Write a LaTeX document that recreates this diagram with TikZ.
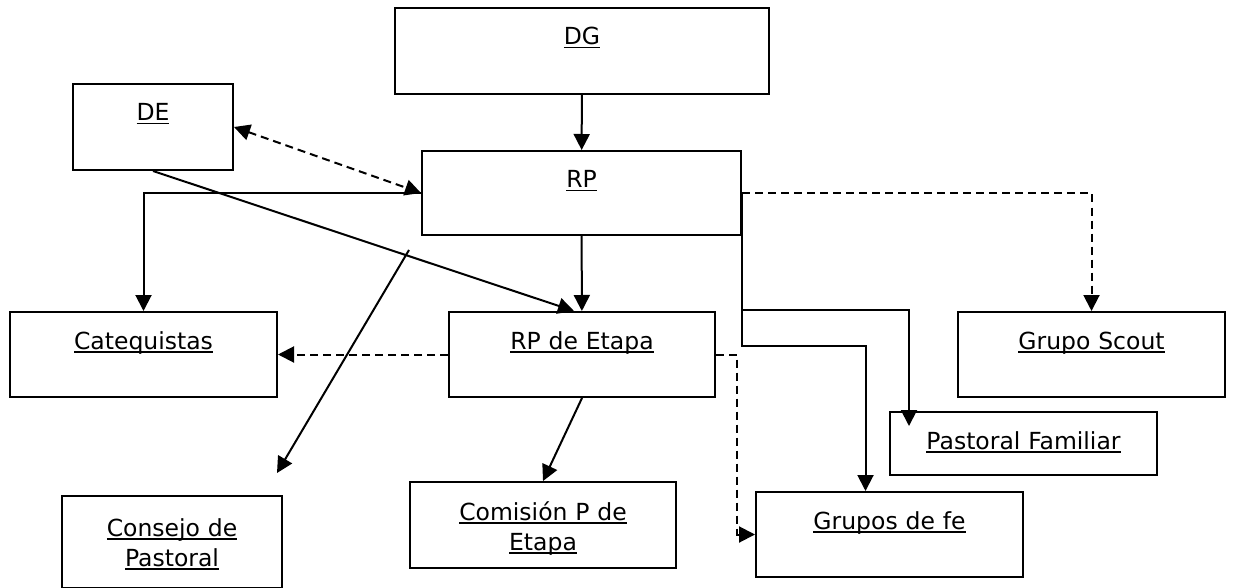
\documentclass[tikz,border=0pt]{standalone}
\usepackage{fontspec}
\setmainfont{DejaVu Sans}
\usetikzlibrary{calc,arrows.meta}

\newcommand{\subr}[1]{\setbox0\hbox{#1}\mbox{\rlap{\rule[-3.5pt]{\wd0}{1.6pt}}\box0}}

\begin{document}
\begin{tikzpicture}[x=1pt,y=-1pt,
	caja/.style 2 args={draw,line width=2pt,inner sep=0pt,anchor=north west,align=center,
		font=\fontsize{23.5}{30}\selectfont,text width=#1,text height=37pt,text depth=#2},
	>={Triangle[length=16pt,width=16pt]},
	flecha/.style={line width=2pt,->},
	guion/.style={dash pattern=on 8pt off 5pt}]
			\useasboundingbox (0,0) rectangle (1233,588);
			%draw boxes
			\node[caja={374pt}{49pt}] (DG) at (394,7) {\subr{DG}};
			\node[caja={160pt}{49pt}] (DE) at (72,83) {\subr{DE}};
			\node[caja={319pt}{47pt}] (RP) at (421,150) {\subr{RP}};
			\node[caja={266pt}{48pt}] (RPE) at (448,311) {\subr{RP de Etapa}};
			\node[caja={267pt}{48pt}] (CAT) at (9,311) {\subr{Catequistas}};
			\node[caja={267pt}{48pt}] (GS) at (957,311) {\subr{Grupo Scout}};
			\node[caja={267pt}{26pt}] (PF) at (889,411) {\subr{Pastoral Familiar}};
			\node[caja={267pt}{48pt}] (GF) at (755,491) {\subr{Grupos de fe}};
			\node[caja={220pt}{52pt},text height=40pt] (CP) at (61,495) {\subr{Consejo de}\\\subr{Pastoral}};
			\node[caja={266pt}{48pt},text height=38pt] (CE) at (409,481) {\subr{Comisión P de}\\\subr{Etapa}};
			%draw arrows
			\draw[flecha] (DG) -- (RP);
			\draw[flecha,guion,<->] (DE.east) -- (RP.west);
			\draw[flecha] (RP.west) -| (CAT.north);
			\draw[flecha] (DE.south) -- ([xshift=-8pt]RPE.north);
			\draw[flecha] (RP) -- (RPE);
			\coordinate (c1) at (409,250);
			\coordinate (c2) at (277,473);
			\draw[flecha] (c1) -- (c2);
			\draw[flecha] (RPE.south) -- (CE.north);
			\draw[flecha,guion] (RPE.west) -- (CAT.east);
			\draw[flecha,guion] (RPE.east) -- ++(21,0) |- (GF.west);
			\draw[flecha,guion] (RP.east) -| (GS.north);
			\draw[flecha] (RP.east) -- ++(0,153) -| ([xshift=-24pt]GF.north);
			\draw[flecha] ($(RP.east)+(0,117)$) -| ($(PF.north west)+(20,15)$);
\end{tikzpicture}
\end{document}
